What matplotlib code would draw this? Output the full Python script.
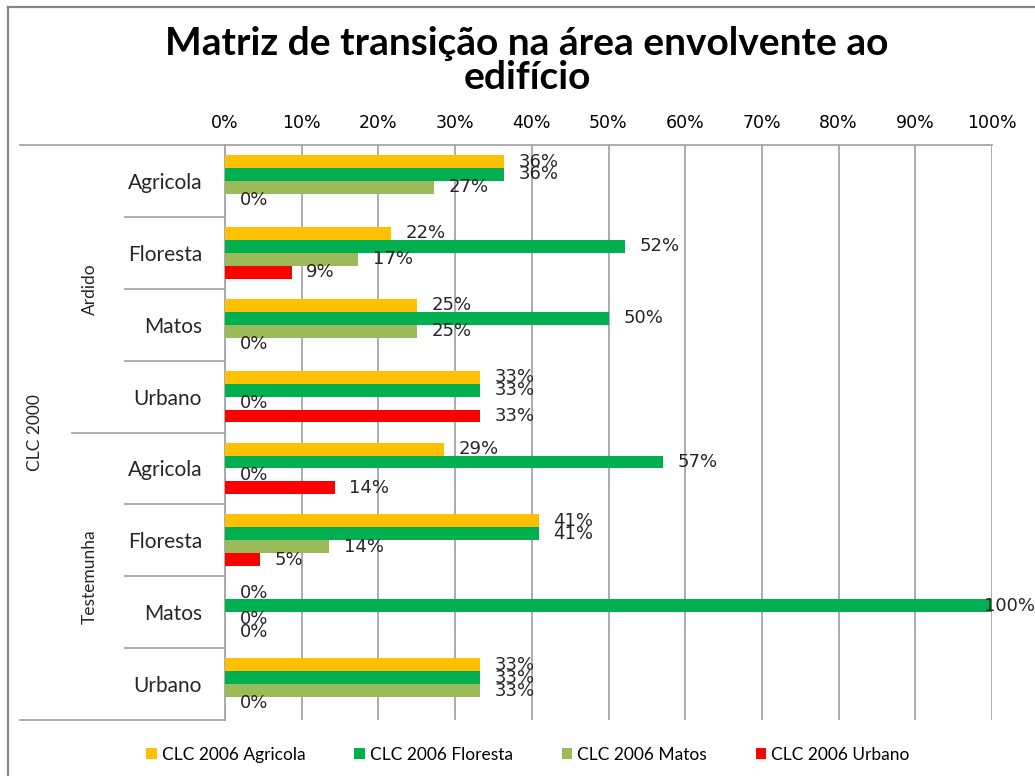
import matplotlib
matplotlib.use('Agg')
from matplotlib import pyplot as plt
from matplotlib.lines import Line2D
from matplotlib.patches import Patch
import numpy as np

# CLC 2000 categories (top to bottom)
groups = ['Ardido', 'Testemunha']
categories = ['Agricola', 'Floresta', 'Matos', 'Urbano',
              'Agricola', 'Floresta', 'Matos', 'Urbano']

# CLC 2006 transition shares (%)
agricola = [36.4, 21.7, 25.0, 33.3, 28.6, 40.9, 0.0, 33.3]
floresta = [36.4, 52.2, 50.0, 33.3, 57.1, 40.9, 100.0, 33.3]
matos = [27.3, 17.4, 25.0, 0.0, 0.0, 13.6, 0.0, 33.3]
urbano = [0.0, 8.7, 0.0, 33.3, 14.3, 4.6, 0.0, 0.0]

series_names = ['CLC 2006 Agricola', 'CLC 2006 Floresta', 'CLC 2006 Matos', 'CLC 2006 Urbano']
series = [agricola, floresta, matos, urbano]
colors = ['#FFC000', '#00B050', '#9BBB59', '#FF0000']

fig = plt.figure(figsize=(10.35, 7.76), dpi=100)
W, H = 1035, 776
ax = fig.add_axes([225 / W, 1 - 720 / H, (992 - 225) / W, (720 - 145) / H])

y = np.arange(len(categories))
bh = 0.18
offsets = [-1.5 * bh, -0.5 * bh, 0.5 * bh, 1.5 * bh]

for vals, off, c in zip(series, offsets, colors):
    ax.barh(y + off, vals, height=bh, color=c, zorder=3)
    for yi, v in zip(y, vals):
        ax.text(min(v + 1.9, 99.0), yi + off, f'{v:.0f}%', va='center', ha='left',
                fontsize=13, color='#262626', zorder=4)

ax.set_xlim(0, 100)
ax.set_ylim(len(categories) - 0.5, -0.5)
ax.set_xticks(np.arange(0, 101, 10))
ax.set_xticklabels([f'{t}%' for t in range(0, 101, 10)], fontsize=12.5)
ax.xaxis.tick_top()
ax.tick_params(axis='x', length=0, pad=9)
ax.grid(axis='x', color='#A6A6A6', linewidth=1.3, zorder=0)
ax.set_axisbelow(True)

ax.set_yticks(y)
ax.set_yticklabels(categories, fontsize=15, family='Lato', color='#262626')
ax.tick_params(axis='y', length=0, pad=16.5)

for s in ['bottom', 'right']:
    ax.spines[s].set_visible(False)
for s in ['top', 'left']:
    ax.spines[s].set_color('#A6A6A6')
    ax.spines[s].set_linewidth(1.3)

# multi-level category axis lines
tr = ax.get_yaxis_transform()
lc = '#A6A6A6'
x_cat = (125 - 225) / 767
x_grp = (72 - 225) / 767
x_all = (20 - 225) / 767
for b in [0.5, 1.5, 2.5, 4.5, 5.5, 6.5]:
    ax.plot([x_cat, 0], [b, b], color=lc, lw=1.3, transform=tr, clip_on=False)
ax.plot([x_grp, 0], [3.5, 3.5], color=lc, lw=1.3, transform=tr, clip_on=False)
for b in [-0.5, 7.5]:
    ax.plot([x_all, 0], [b, b], color=lc, lw=1.3, transform=tr, clip_on=False)

for g, yc in zip(groups, [1.5, 5.5]):
    ax.text((90 - 225) / 767, yc, g, rotation=90, ha='center', va='center',
            fontsize=12.5, family='Lato', transform=tr, color='#262626')
ax.text((35 - 225) / 767, 3.5, 'CLC 2000', rotation=90, ha='center', va='center',
        fontsize=12.5, family='Lato', transform=tr, color='#262626')

fig.text(527 / W, 1 - 55 / H, 'Matriz de transição na área envolvente ao',
         ha='center', va='baseline', fontsize=28, fontweight='bold', family='Lato')
fig.text(527 / W, 1 - 89 / H, 'edifício',
         ha='center', va='baseline', fontsize=28, fontweight='bold', family='Lato')

handles = [Patch(facecolor=c, edgecolor='none') for c in colors]
fig.legend(handles, series_names, loc='center', bbox_to_anchor=(528 / W, 1 - 755 / H),
           ncol=4, frameon=False, handlelength=0.6, handleheight=0.6, handletextpad=0.3,
           columnspacing=2.8, prop={'family': 'Lato', 'size': 12.5})

# outer chart border (left and top only visible)
fig.add_artist(Line2D([8 / W, 8 / W], [0, 1 - 7 / H], color='#878787', lw=1.6))
fig.add_artist(Line2D([8 / W, 1], [1 - 7 / H, 1 - 7 / H], color='#878787', lw=1.6))

fig.savefig('out.png', dpi=100)
